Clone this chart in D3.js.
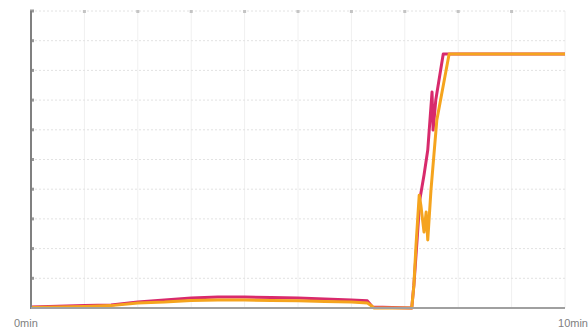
<!DOCTYPE html>
<html>
<head>
<meta charset="utf-8">
<script src="https://cdn.jsdelivr.net/npm/d3@7"></script>
<style>
  body { margin: 0; background: #fff; }
  svg { display: block; font-family: "Liberation Sans", Arial, sans-serif; }
</style>
</head>
<body>
<div id="chart"></div>
<script>
// time in minutes, value in % of full scale
var pinkTime  = [0, 1, 1.5, 2, 2.5, 3, 3.5, 4, 4.5, 5, 5.5, 6, 6.3, 6.4, 7.13, 7.17, 7.23, 7.28, 7.36, 7.43, 7.51, 7.53, 7.58, 7.72, 10];
var pinkValue = [0.3, 0.8, 1.0, 2.0, 2.7, 3.4, 3.7, 3.7, 3.5, 3.4, 3.0, 2.7, 2.4, 0.3, 0, 7.7, 22.9, 36.4, 44.8, 53.2, 72.7, 59.9, 70, 85.5, 85.5];
var orangeTime  = [0, 1, 1.5, 2, 2.5, 3, 3.5, 4, 4.5, 5, 5.5, 6, 6.3, 6.38, 6.42, 7.13, 7.17, 7.21, 7.27, 7.30, 7.36, 7.40, 7.43, 7.49, 7.60, 7.83, 10];
var orangeValue = [0.2, 0.5, 0.8, 1.7, 2.0, 2.5, 2.7, 2.7, 2.5, 2.4, 2.2, 2.0, 1.7, 0.7, 0, 0, 7.7, 21.2, 38.0, 34.7, 25.6, 32.3, 22.9, 39.7, 63.3, 85.5, 85.5];
var xTickLabels = ["0min", "10min"];

var width = 588, height = 335;
var margin = { top: 11, right: 23, bottom: 27, left: 31 };

var svg = d3.select("#chart").append("svg")
  .attr("width", width)
  .attr("height", height);

var x = d3.scaleLinear().domain([0, 10]).range([margin.left, width - margin.right]);
var y = d3.scaleLinear().domain([0, 100]).range([height - margin.bottom, margin.top]);

// grid
svg.append("g")
  .selectAll("line")
  .data(d3.range(1, 11))
  .enter().append("line")
  .attr("x1", function(d) { return x(d); })
  .attr("x2", function(d) { return x(d); })
  .attr("y1", y(0))
  .attr("y2", y(100))
  .attr("stroke", "#f0f0f0")
  .attr("stroke-width", 1);

svg.append("g")
  .selectAll("line")
  .data(d3.range(1, 11))
  .enter().append("line")
  .attr("x1", x(0))
  .attr("x2", x(10))
  .attr("y1", function(d) { return y(d * 10); })
  .attr("y2", function(d) { return y(d * 10); })
  .attr("stroke", "#e2e2e2")
  .attr("stroke-dasharray", "2,2")
  .attr("stroke-width", 1);

// small tick dots along top and left
svg.append("g")
  .selectAll("rect")
  .data(d3.range(1, 10))
  .enter().append("rect")
  .attr("x", function(d) { return x(d) - 1.5; })
  .attr("y", y(100) - 1)
  .attr("width", 3)
  .attr("height", 3)
  .attr("fill", "#c4c4c4");

svg.append("g")
  .selectAll("rect")
  .data(d3.range(1, 11))
  .enter().append("rect")
  .attr("x", x(0) - 1)
  .attr("y", function(d) { return y(d * 10) - 1.5; })
  .attr("width", 4)
  .attr("height", 3)
  .attr("fill", "#999");

var line = d3.line()
  .x(function(d) { return x(d[0]); })
  .y(function(d) { return y(d[1]); });

var pink = d3.zip(pinkTime, pinkValue);
var orange = d3.zip(orangeTime, orangeValue);

svg.append("path")
  .datum(pink)
  .attr("d", line)
  .attr("fill", "none")
  .attr("stroke", "#d82a6c")
  .attr("stroke-width", 3)
  .attr("stroke-linejoin", "round");

svg.append("path")
  .datum(orange)
  .attr("d", line)
  .attr("fill", "none")
  .attr("stroke", "#f5a41e")
  .attr("stroke-width", 3)
  .attr("stroke-linejoin", "round");

// axes
svg.append("line")
  .attr("x1", x(0)).attr("x2", x(0))
  .attr("y1", y(100)).attr("y2", y(0) + 1)
  .attr("stroke", "#808080").attr("stroke-width", 2);

svg.append("line")
  .attr("x1", x(0)).attr("x2", x(10))
  .attr("y1", y(0)).attr("y2", y(0))
  .attr("stroke", "#a0a0a0").attr("stroke-width", 2);

svg.append("text")
  .attr("x", 14)
  .attr("y", height - 8)
  .attr("font-size", 11)
  .attr("fill", "#808080")
  .text(xTickLabels[0]);

svg.append("text")
  .attr("x", width)
  .attr("y", height - 8)
  .attr("text-anchor", "end")
  .attr("font-size", 11)
  .attr("fill", "#808080")
  .text(xTickLabels[1]);
</script>
</body>
</html>
